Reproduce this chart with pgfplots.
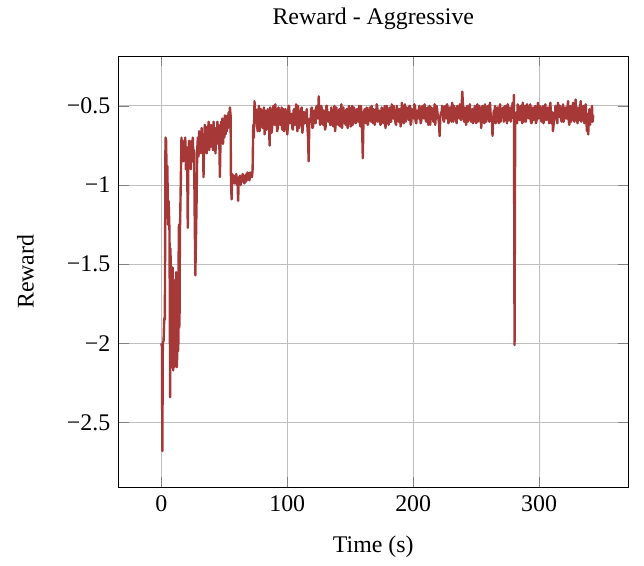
\documentclass[border=0pt]{standalone}
\usepackage{fontspec}
\setmainfont{Liberation Serif}
\usepackage{pgfplots}
\pgfplotsset{compat=1.18}
\definecolor{lc}{RGB}{166,56,56}
\begin{document}
\begin{tikzpicture}
\begin{axis}[
  scale only axis,
  width=213.4pt, height=180.8pt,
  xmin=-33.9, xmax=370.6,
  ymin=-2.91, ymax=-0.185,
  xtick={0,100,200,300}, xticklabels={0,100,200,300},
  ytick={-2.5,-2,-1.5,-1,-0.5}, yticklabels={−2.5,−2,−1.5,−1,−0.5},
  grid=major,
  major grid style={gray!50, line width=0.4pt},
  title={Reward - Aggressive},
  title style={yshift=1.5pt},
  xlabel={Time (s)}, ylabel={Reward},
  xlabel style={yshift=-3pt},
  ylabel style={yshift=7pt},
  tick align=inside,
]
\addplot[lc, line width=1pt, line join=round] coordinates {
(0,-2.00) (0.5,-2.02) (0.8,-2.68) (1.2,-2.00) (1.8,-1.98) (2.3,-1.84) (2.8,-1.85)
(3.3,-0.70) (3.8,-0.72) (4.3,-1.00) (4.8,-0.88) (5.3,-1.25) (5.8,-1.10) (6.5,-1.30)
(7.0,-2.34) (7.25,-1.40) (7.5,-1.55) (7.75,-2.05) (8.0,-1.60) (8.25,-2.15) (8.5,-2.10) (8.75,-1.55)
(9.0,-1.52) (9.25,-2.12) (9.5,-2.17) (9.75,-1.65) (10.0,-1.70) (10.25,-2.15) (10.5,-2.12) (10.75,-1.60)
(11,-1.80) (11.25,-2.10) (11.5,-2.05) (11.75,-1.55) (12,-1.85) (12.25,-2.15) (12.5,-2.10) (12.75,-1.70)
(13,-1.60) (13.25,-2.05) (13.5,-2.00) (13.75,-1.45) (14,-1.25) (14.25,-1.90) (14.5,-1.80) (14.75,-1.30)
(15,-1.20) (15.5,-0.95) (16.0,-0.70) (16.5,-0.80) (17.0,-0.72) (17.5,-0.85) (18.0,-0.74) (18.5,-0.82)
(19.0,-0.70) (19.5,-0.90) (20.0,-0.76) (20.5,-0.84) (21.0,-1.27) (21.5,-0.80) (22.0,-0.72) (22.5,-0.86)
(23.0,-0.75) (23.5,-0.90) (24.0,-0.72) (24.5,-0.82) (25.0,-0.70) (25.5,-0.85) (26.0,-0.78) (26.5,-1.20)
(27.0,-1.57) (27.5,-1.35) (28.0,-1.10) (28.5,-0.78) (29.0,-0.70) (29.5,-0.82) (30.0,-0.66) (30.5,-0.80)
(31,-0.70) (31.5,-0.78) (32,-0.64) (32.5,-0.80) (33,-0.68) (33.5,-0.95) (34,-0.72) (34.5,-0.62)
(35,-0.76) (35.5,-0.66) (36,-0.80) (36.5,-0.63) (37,-0.74) (37.5,-0.60) (38,-0.78) (38.5,-0.66)
(39,-0.76) (39.5,-0.62) (40,-0.74) (40.5,-0.68) (41,-0.78) (41.5,-0.60) (42,-0.72) (42.5,-0.64)
(43,-0.80) (43.5,-0.66) (44,-0.72) (44.5,-0.60) (45,-0.74) (45.5,-0.62) (46,-0.70) (46.5,-0.95)
(47,-0.72) (47.5,-0.60) (48,-0.68) (48.5,-0.58) (49,-0.74) (49.5,-0.62) (50,-0.70) (50.5,-0.56)
(51,-0.68) (51.5,-0.60) (52,-0.66) (52.5,-0.56) (53,-0.64) (53.5,-0.54) (54,-0.60) (54.5,-0.51)
(55,-0.56) (55.3,-0.97) (55.8,-1.09) (56.3,-0.93) (57,-0.98) (57.5,-0.94) (58,-0.99) (58.5,-0.95)
(59,-0.97) (59.5,-0.93) (60,-1.00) (60.5,-0.96) (61,-1.10) (61.5,-0.95) (62,-0.99) (62.5,-0.94)
(63,-1.00) (63.5,-0.95) (64,-0.98) (64.5,-0.93) (65,-0.97) (65.5,-0.94) (66,-0.99) (66.5,-0.94)
(67,-0.98) (67.5,-0.93) (68,-0.97) (68.5,-0.92) (69,-0.96) (69.5,-0.93) (70,-0.97) (70.5,-0.92)
(71,-0.95) (71.5,-0.93) (72,-0.95) (72.5,-0.90) (73,-0.62) (73.5,-0.70) (74,-0.47) (74.5,-0.60)
(75,-0.52) (75.5,-0.58) (76,-0.62) (76.5,-0.66) (77,-0.54) (77.5,-0.50) (78,-0.66) (78.5,-0.60)
(79,-0.52) (79.5,-0.53) (80,-0.63) (80.5,-0.64) (81,-0.56) (81.5,-0.51) (82,-0.68) (82.5,-0.58)
(83,-0.53) (83.5,-0.65) (84,-0.60) (84.5,-0.52) (85,-0.55) (85.5,-0.63) (86,-0.75) (86.5,-0.51)
(87,-0.56) (87.5,-0.67) (88,-0.64) (88.5,-0.55) (89,-0.50) (89.5,-0.61) (90,-0.62) (90.5,-0.49)
(91,-0.55) (91.5,-0.59) (92,-0.66) (92.5,-0.64) (93,-0.51) (93.5,-0.53) (94,-0.60) (94.5,-0.62)
(95,-0.57) (95.5,-0.51) (96,-0.65) (96.5,-0.60) (97,-0.52) (97.5,-0.66) (98,-0.63) (98.5,-0.52)
(99,-0.54) (99.5,-0.58) (100,-0.68) (100.5,-0.63) (101,-0.50) (101.5,-0.50) (102,-0.61) (102.5,-0.59)
(103,-0.56) (103.5,-0.55) (104,-0.64) (104.5,-0.65) (105,-0.53) (105.5,-0.52) (106,-0.62) (106.5,-0.61)
(107,-0.49) (107.5,-0.57) (108,-0.66) (108.5,-0.50) (109,-0.55) (109.5,-0.64) (110,-0.60) (110.5,-0.58)
(111,-0.52) (111.5,-0.51) (112,-0.67) (112.5,-0.63) (113,-0.54) (113.5,-0.54) (114,-0.61) (114.5,-0.60)
(115,-0.56) (115.5,-0.52) (116,-0.63) (116.5,-0.70) (117,-0.85) (117.5,-0.62) (118,-0.58) (118.5,-0.60)
(119,-0.52) (119.5,-0.51) (120,-0.64) (120.5,-0.63) (121,-0.54) (121.5,-0.53) (122,-0.60) (122.5,-0.61)
(123,-0.51) (123.5,-0.50) (124,-0.58) (124.5,-0.56) (125,-0.44) (125.5,-0.55) (126,-0.62) (126.5,-0.61)
(127,-0.50) (127.5,-0.52) (128,-0.58) (128.5,-0.62) (129,-0.53) (129.5,-0.56) (130,-0.65) (130.5,-0.63)
(131,-0.50) (131.5,-0.50) (132,-0.59) (132.5,-0.60) (133,-0.54) (133.5,-0.55) (134,-0.62) (134.5,-0.62)
(135,-0.51) (135.5,-0.54) (136,-0.60) (136.5,-0.63) (137,-0.55) (137.5,-0.50) (138,-0.66) (138.5,-0.61)
(139,-0.51) (139.5,-0.56) (140,-0.58) (140.5,-0.62) (141,-0.53) (141.5,-0.52) (142,-0.63) (142.5,-0.58)
(143,-0.49) (143.5,-0.64) (144,-0.59) (144.5,-0.51) (145,-0.55) (145.5,-0.59) (146,-0.61) (146.5,-0.62)
(147,-0.52) (147.5,-0.52) (148,-0.64) (148.5,-0.60) (149,-0.50) (149.5,-0.55) (150,-0.57) (150.5,-0.63)
(151,-0.54) (151.5,-0.50) (152,-0.62) (152.5,-0.58) (153,-0.51) (153.5,-0.54) (154,-0.60) (154.5,-0.61)
(155,-0.53) (155.5,-0.52) (156,-0.58) (156.5,-0.60) (157,-0.50) (157.5,-0.56) (158,-0.63) (158.5,-0.50)
(159,-0.55) (159.5,-0.66) (160,-0.83) (160.5,-0.60) (161,-0.54) (161.5,-0.52) (162,-0.59) (162.5,-0.61)
(163,-0.51) (163.5,-0.55) (164,-0.62) (164.5,-0.59) (165,-0.53) (165.5,-0.51) (166,-0.57) (166.5,-0.60)
(167,-0.50) (167.5,-0.55) (168,-0.61) (168.5,-0.52) (169,-0.54) (169.5,-0.62) (170,-0.59) (170.5,-0.56)
(171,-0.49) (171.5,-0.51) (172,-0.60) (172.5,-0.59) (173,-0.53) (173.5,-0.55) (174,-0.62) (174.5,-0.61)
(175,-0.51) (175.5,-0.54) (176,-0.58) (176.5,-0.61) (177,-0.52) (177.5,-0.50) (178,-0.64) (178.5,-0.59)
(179,-0.50) (179.5,-0.54) (180,-0.57) (180.5,-0.62) (181,-0.53) (181.5,-0.51) (182,-0.60) (182.5,-0.60)
(183,-0.49) (183.5,-0.56) (184,-0.58) (184.5,-0.50) (185,-0.54) (185.5,-0.57) (186,-0.61) (186.5,-0.62)
(187,-0.50) (187.5,-0.53) (188,-0.57) (188.5,-0.60) (189,-0.52) (189.5,-0.54) (190,-0.63) (190.5,-0.59)
(191,-0.48) (191.5,-0.52) (192,-0.58) (192.5,-0.61) (193,-0.53) (193.5,-0.49) (194,-0.60) (194.5,-0.58)
(195,-0.51) (195.5,-0.53) (196,-0.56) (196.5,-0.59) (197,-0.50) (197.5,-0.50) (198,-0.62) (198.5,-0.60)
(199,-0.52) (199.5,-0.53) (200,-0.57) (200.5,-0.58) (201,-0.49) (201.5,-0.51) (202,-0.60) (202.5,-0.61)
(203,-0.53) (203.5,-0.55) (204,-0.58) (204.5,-0.52) (205,-0.50) (205.5,-0.57) (206,-0.61) (206.5,-0.59)
(207,-0.51) (207.5,-0.50) (208,-0.56) (208.5,-0.58) (209,-0.49) (209.5,-0.53) (210,-0.59) (210.5,-0.60)
(211,-0.52) (211.5,-0.51) (212,-0.62) (212.5,-0.57) (213,-0.50) (213.5,-0.62) (214,-0.57) (214.5,-0.51)
(215,-0.53) (215.5,-0.55) (216,-0.60) (216.5,-0.58) (217,-0.49) (217.5,-0.62) (218,-0.56) (218.5,-0.50)
(219,-0.52) (219.5,-0.56) (220,-0.58) (220.5,-0.61) (221,-0.69) (221.5,-0.58) (222,-0.54) (222.5,-0.55)
(223,-0.50) (223.5,-0.51) (224,-0.59) (224.5,-0.60) (225,-0.52) (225.5,-0.50) (226,-0.57) (226.5,-0.58)
(227,-0.49) (227.5,-0.53) (228,-0.61) (228.5,-0.59) (229,-0.51) (229.5,-0.51) (230,-0.56) (230.5,-0.60)
(231,-0.48) (231.5,-0.54) (232,-0.60) (232.5,-0.50) (233,-0.52) (233.5,-0.57) (234,-0.58) (234.5,-0.61)
(235,-0.50) (235.5,-0.52) (236,-0.55) (236.5,-0.58) (237,-0.49) (237.5,-0.51) (238,-0.59) (238.5,-0.50)
(239,-0.41) (239.5,-0.49) (240,-0.57) (240.5,-0.60) (241,-0.51) (241.5,-0.54) (242,-0.62) (242.5,-0.57)
(243,-0.50) (243.5,-0.60) (244,-0.56) (244.5,-0.52) (245,-0.49) (245.5,-0.57) (246,-0.60) (246.5,-0.55)
(247,-0.52) (247.5,-0.61) (248,-0.57) (248.5,-0.53) (249,-0.50) (249.5,-0.58) (250,-0.61) (250.5,-0.55)
(251,-0.49) (251.5,-0.60) (252,-0.56) (252.5,-0.50) (253,-0.52) (253.5,-0.56) (254,-0.64) (254.5,-0.59)
(255,-0.50) (255.5,-0.52) (256,-0.57) (256.5,-0.61) (257,-0.49) (257.5,-0.54) (258,-0.60) (258.5,-0.58)
(259,-0.51) (259.5,-0.50) (260,-0.56) (260.5,-0.60) (261,-0.48) (261.5,-0.55) (262,-0.59) (262.5,-0.58)
(263,-0.69) (263.5,-0.60) (264,-0.53) (264.5,-0.56) (265,-0.50) (265.5,-0.61) (266,-0.58) (266.5,-0.54)
(267,-0.51) (267.5,-0.58) (268,-0.61) (268.5,-0.53) (269,-0.49) (269.5,-0.60) (270,-0.56) (270.5,-0.55)
(271,-0.52) (271.5,-0.51) (272,-0.60) (272.5,-0.58) (273,-0.50) (273.5,-0.54) (274,-0.57) (274.5,-0.61)
(275,-0.49) (275.5,-0.53) (276,-0.59) (276.5,-0.57) (277,-0.51) (277.5,-0.60) (278,-0.56) (278.5,-0.52)
(279,-0.48) (279.5,-0.58) (280,-0.43) (280.5,-2.01) (281,-0.62) (281.5,-0.56) (282,-0.54) (282.5,-0.61)
(283,-0.49) (283.5,-0.53) (284,-0.58) (284.5,-0.59) (285,-0.51) (285.5,-0.50) (286,-0.56) (286.5,-0.61)
(287,-0.48) (287.5,-0.54) (288,-0.60) (288.5,-0.57) (289,-0.50) (289.5,-0.60) (290,-0.55) (290.5,-0.49)
(291,-0.52) (291.5,-0.57) (292,-0.58) (292.5,-0.54) (293,-0.49) (293.5,-0.60) (294,-0.61) (294.5,-0.53)
(295,-0.51) (295.5,-0.59) (296,-0.56) (296.5,-0.52) (297,-0.50) (297.5,-0.61) (298,-0.59) (298.5,-0.55)
(299,-0.48) (299.5,-0.58) (300,-0.57) (300.5,-0.50) (301,-0.52) (301.5,-0.59) (302,-0.60) (302.5,-0.53)
(303,-0.50) (303.5,-0.61) (304,-0.56) (304.5,-0.52) (305,-0.49) (305.5,-0.59) (306,-0.58) (306.5,-0.55)
(307,-0.51) (307.5,-0.57) (308,-0.61) (308.5,-0.52) (309,-0.48) (309.5,-0.61) (310,-0.57) (310.5,-0.54)
(311,-0.66) (311.5,-0.62) (312,-0.55) (312.5,-0.58) (313,-0.50) (313.5,-0.53) (314,-0.59) (314.5,-0.61)
(315,-0.48) (315.5,-0.55) (316,-0.57) (316.5,-0.50) (317,-0.52) (317.5,-0.59) (318,-0.60) (318.5,-0.54)
(319,-0.49) (319.5,-0.60) (320,-0.56) (320.5,-0.52) (321,-0.51) (321.5,-0.58) (322,-0.58) (322.5,-0.52)
(323,-0.47) (323.5,-0.59) (324,-0.62) (324.5,-0.55) (325,-0.50) (325.5,-0.60) (326,-0.55) (326.5,-0.51)
(327,-0.48) (327.5,-0.58) (328,-0.60) (328.5,-0.53) (329,-0.46) (329.5,-0.59) (330,-0.57) (330.5,-0.61)
(331,-0.51) (331.5,-0.54) (332,-0.59) (332.5,-0.52) (333,-0.47) (333.5,-0.60) (334,-0.56) (334.5,-0.53)
(335,-0.50) (335.5,-0.57) (336,-0.61) (336.5,-0.52) (337,-0.49) (337.5,-0.59) (338,-0.66) (338.5,-0.55)
(339,-0.68) (339.5,-0.58) (340,-0.52) (340.5,-0.62) (341,-0.58) (341.5,-0.54) (342,-0.50) (342.5,-0.60)
(343,-0.56)
};
\end{axis}
\path (current axis.north east) ++(6.7pt,0);
\path (current axis.outer west) ++(-3.8pt,0);
\end{tikzpicture}
\end{document}
